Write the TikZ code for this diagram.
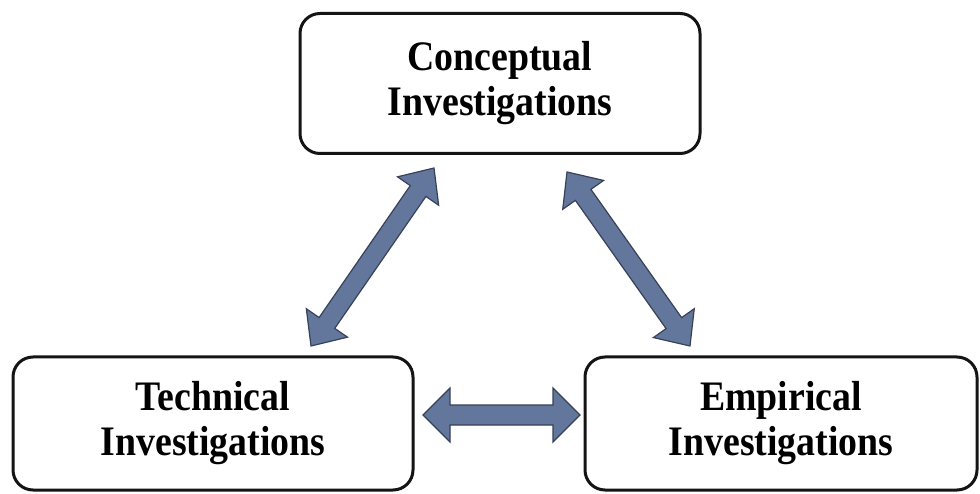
\documentclass[tikz,border=0pt]{standalone}
\usepackage{fontspec}
\setmainfont{Liberation Serif}[FakeStretch=0.9]
\usetikzlibrary{calc}
\definecolor{arrfill}{RGB}{99,118,155}
\definecolor{arrline}{RGB}{55,65,88}
\definecolor{boxline}{RGB}{20,20,20}
\tikzset{
  invbox/.style={draw=boxline, line width=3pt, rounded corners=20pt, fill=white,
    align=center, inner sep=0pt, font=\fontsize{42}{45}\selectfont\bfseries},
  arrowshape/.style={fill=arrfill, draw=arrline, line width=1.2pt, line join=miter}
}
% double-headed block arrow between two named coordinates
% #1,#2 tips; #3 head length; #4 head half-width; #5 shaft half-width
\newcommand\dblarr[5]{%
  \coordinate (#1h) at ($(#1)!#3!(#2)$);
  \coordinate (#2h) at ($(#2)!#3!(#1)$);
  \draw[arrowshape] (#1) -- ($(#1h)!#4!90:(#2)$) -- ($(#1h)!#5!90:(#2)$)
    -- ($(#2h)!#5!-90:(#1)$) -- ($(#2h)!#4!-90:(#1)$) -- (#2)
    -- ($(#2h)!#4!90:(#1)$) -- ($(#2h)!#5!90:(#1)$)
    -- ($(#1h)!#5!-90:(#2)$) -- ($(#1h)!#4!-90:(#2)$) -- cycle;}
\begin{document}
\begin{tikzpicture}[x=1pt,y=1pt]
\fill[white] (0,0) rectangle (980,493);
\useasboundingbox (0,0) rectangle (980,493);
\node[invbox, minimum width=400pt, minimum height=140pt] (con) at (500,409.5) {Conceptual\\Investigations};
\node[invbox, minimum width=400pt, minimum height=133pt] (tec) at (213,69.5) {Technical\\Investigations};
\node[invbox, minimum width=392pt, minimum height=133pt] (emp) at (781,69.5) {Empirical\\Investigations};
\coordinate (la) at (311,147);
\coordinate (lb) at (434,325);
\coordinate (ra) at (567,321);
\coordinate (rb) at (690,147);
\coordinate (ha) at (423,78);
\coordinate (hb) at (580,78);
\dblarr{la}{lb}{28pt}{25pt}{9.5pt}
\dblarr{ra}{rb}{28pt}{25pt}{9.5pt}
\dblarr{ha}{hb}{27pt}{27pt}{10pt}
\end{tikzpicture}
\end{document}
